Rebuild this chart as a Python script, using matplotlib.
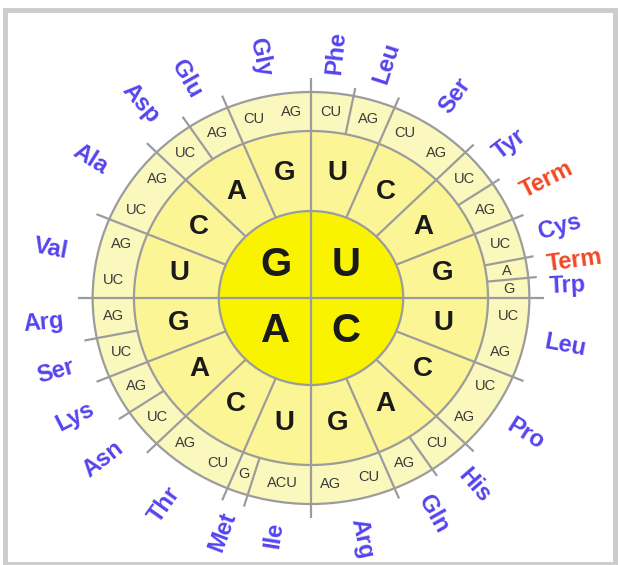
import numpy as np
import matplotlib.pyplot as plt
from matplotlib.patches import Circle, Rectangle

# codon wheel: first base inside, then second base, then third base
first_bases = ["U", "C", "A", "G"]          # clockwise from 12 o'clock
second_bases = ["U", "C", "A", "G"]

# amino acids clockwise from the top, with how many third bases each one covers
aa_names = ["Phe", "Leu", "Ser", "Tyr", "Term", "Cys", "Term", "Trp",
            "Leu", "Pro", "His", "Gln", "Arg",
            "Ile", "Met", "Thr", "Asn", "Lys", "Ser", "Arg",
            "Val", "Ala", "Asp", "Glu", "Gly"]
aa_span = [2, 2, 4, 2, 2, 2, 1, 1,
           4, 4, 2, 2, 4,
           3, 1, 4, 2, 2, 2, 2,
           4, 4, 2, 2, 4]
third_labels = [["CU"], ["AG"], ["CU", "AG"], ["UC"], ["AG"], ["UC"], ["A"], ["G"],
                ["UC", "AG"], ["UC", "AG"], ["CU"], ["AG"], ["CU", "AG"],
                ["ACU"], ["G"], ["CU", "AG"], ["UC"], ["AG"], ["UC"], ["AG"],
                ["UC", "AG"], ["UC", "AG"], ["UC"], ["AG"], ["CU", "AG"]]
stop_codons = ["Term"]

W, H = 618, 565
cx, cy = 311, 298      # wheel centre in pixels
sx = 1.06              # picture is a little wider than tall
r1, r2, r3 = 87, 167, 206

plt.rcParams["font.family"] = ["Liberation Sans", "DejaVu Sans"]

fig = plt.figure(figsize=(W / 100, H / 100), dpi=100)
ax = fig.add_axes([0, 0, 1, 1])
ax.set_xlim(-cx / sx, (W - cx) / sx)
ax.set_ylim(-(H - cy), cy)
ax.axis("off")

# grey frame round the picture
fig.patches.append(Rectangle((5 / W, 1 / H), 610 / W, 554 / H, transform=fig.transFigure,
                             fill=False, edgecolor="#cccccc", linewidth=3.5))

line_col = "#9c9c9c"
ax.add_patch(Circle((0, 0), r3, facecolor="#fbf8bd", edgecolor=line_col, lw=1.6))
ax.add_patch(Circle((0, 0), r2, facecolor="#fbf596", edgecolor=line_col, lw=1.6))
ax.add_patch(Circle((0, 0), r1, facecolor="#f9f300", edgecolor=line_col, lw=1.6))


def pol(r, a):
    # a is degrees clockwise from the top
    t = np.radians(a)
    return r * np.sin(t), r * np.cos(t)


def radial(a, ra, rb):
    x0, y0 = pol(ra, a)
    x1, y1 = pol(rb, a)
    ax.plot([x0, x1], [y0, y1], color=line_col, lw=1.6, solid_capstyle="butt")


step = 360 / 64
bounds = np.cumsum([0] + aa_span)
for b in bounds[:-1]:
    a = b * step
    if b % 16 == 0:
        radial(a, 0, 220)
    elif b % 4 == 0:
        radial(a, r1, 219 if a > 180 else 217)
    else:
        radial(a, r2, 218 if a > 180 else 214)

# inner and second ring letters
for q, base in enumerate(first_bases):
    x, y = pol(47, q * 90 + 45)
    ax.text(x, y, base, ha="center", va="center", fontsize=29, fontweight="bold", color="#1a1a1a")
    for k, b2 in enumerate(second_bases):
        x, y = pol(127, q * 90 + k * 22.5 + 11.25)
        ax.text(x, y, b2, ha="center", va="center", fontsize=20, fontweight="bold", color="#1a1a1a")

# third base letters and amino acid names
for i, name in enumerate(aa_names):
    a0 = bounds[i] * step
    a1 = bounds[i + 1] * step
    labs = third_labels[i]
    part = (a1 - a0) / len(labs)
    for j, t in enumerate(labs):
        x, y = pol(187, a0 + part * (j + 0.5))
        ax.text(x, y, t, ha="center", va="center", fontsize=10.5, color="#3a3a3a")
    am = (a0 + a1) / 2
    t = np.radians(am)
    phi = np.degrees(np.arctan2(np.cos(t), sx * np.sin(t)))
    if np.sin(t) > 0:
        rot, ha = phi, "left"
        x, y = pol(225, am)
    else:
        # left half reads inwards, names sit a little further out there
        rot, ha = phi + 180, "right"
        x, y = pol(225 + 9 * abs(np.sin(t)), am)
    col = "#f04822" if name in stop_codons else "#5544ee"
    ax.text(x, y, name, ha=ha, va="center", rotation=rot, rotation_mode="anchor",
            fontsize=17, fontweight="bold", color=col)

fig.savefig("out.png", dpi=100)
